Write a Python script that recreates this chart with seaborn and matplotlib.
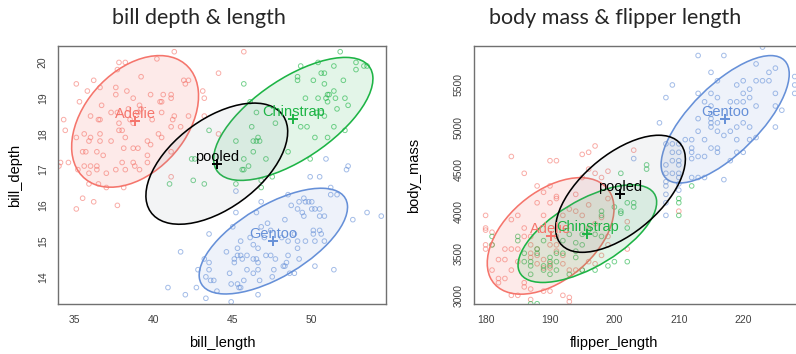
import numpy as np
import pandas as pd
import matplotlib
matplotlib.use("Agg")
import matplotlib.pyplot as plt
import seaborn as sns
from matplotlib.patches import Ellipse
from matplotlib.colors import to_rgba

# ---------------------------------------------------------------- data
species = ["Adelie", "Chinstrap", "Gentoo"]
palette = {"Adelie": "#F5756C", "Chinstrap": "#1DB445", "Gentoo": "#6690D8"}
fill_alpha = {"Adelie": 0.15, "Chinstrap": 0.12, "Gentoo": 0.11}
group_n = [146, 68, 119]

# group summaries (means, standard deviations, correlations)
bill_length_mean = [38.82, 48.83, 47.57]
bill_depth_mean = [18.35, 18.42, 15.00]
bill_length_sd = [2.66, 3.34, 3.11]
bill_depth_sd = [1.22, 1.14, 0.98]
bill_r = [0.386, 0.654, 0.643]

flipper_mean = [190.1, 195.8, 217.2]
mass_mean = [3706, 3733, 5092]
flipper_sd = [6.52, 7.13, 6.59]
mass_sd = [458.6, 384.3, 501.5]
flipper_mass_r = [0.468, 0.642, 0.711]

# observations: bill_length / bill_depth
adelie_bill_length = [41.3, 37.8, 38.2, 40.2, 37.7, 39.2, 35.1, 36.2, 41.9, 42.2, 42.0, 35.8, 36.6,
                      37.6, 38.3, 43.1, 39.8, 40.6, 41.1, 37.6, 35.3, 36.7, 38.7, 40.5, 41.1, 40.4,
                      43.2, 39.1, 39.2, 38.4, 34.3, 36.0, 36.6, 37.3, 37.7, 40.5, 41.3, 42.2, 34.4,
                      39.0, 36.5, 37.8, 38.0, 38.5, 38.7, 39.9, 41.2, 41.7, 43.2, 35.1, 36.0, 36.6,
                      35.6, 35.9, 36.6, 37.3, 37.8, 38.2, 39.6, 39.8, 40.3, 40.5, 41.1, 35.7, 35.5,
                      36.4, 36.8, 38.1, 38.7, 39.0, 39.6, 34.1, 34.6, 35.6, 36.0, 36.4, 38.0, 38.7,
                      38.8, 39.6, 35.2, 35.9, 36.4, 37.0, 37.6, 38.2, 39.1, 41.1, 34.0, 35.9, 36.5,
                      37.0, 38.1, 35.5, 36.2, 35.1, 37.7, 44.1, 45.7, 44.1, 41.1]
adelie_bill_depth = [20.3, 20.0, 20.0, 20.1, 19.8, 19.6, 19.4, 19.5, 19.5, 19.5, 19.4, 19.2, 19.3,
                     19.3, 19.2, 19.2, 19.1, 19.1, 19.1, 19.1, 18.9, 18.8, 19.0, 18.9, 19.0, 18.9,
                     19.0, 18.8, 18.7, 18.7, 18.4, 18.5, 18.4, 18.6, 18.6, 18.6, 18.5, 18.5, 18.1,
                     18.6, 18.4, 18.3, 18.1, 18.4, 18.3, 18.4, 18.4, 18.2, 18.5, 17.9, 17.9, 18.0,
                     18.0, 17.8, 17.8, 17.8, 18.1, 17.9, 17.8, 17.7, 18.0, 17.9, 18.2, 17.5, 17.5,
                     17.5, 17.4, 17.6, 17.6, 17.6, 17.4, 17.2, 17.2, 17.1, 17.1, 17.1, 17.2, 17.2,
                     17.1, 17.2, 17.0, 16.9, 17.0, 16.9, 17.0, 17.0, 17.0, 17.5, 17.1, 16.6, 16.6,
                     16.5, 16.5, 16.2, 16.1, 15.9, 16.0, 19.7, 20.3, 18.0, 16.8]

chinstrap_bill_length = [51.8, 50.4, 49.3, 51.4, 52.8, 53.3, 52.8, 49.1, 49.1, 50.1, 50.6, 50.8,
                         50.8, 52.0, 45.7, 51.4, 51.1, 51.0, 52.1, 52.3, 49.6, 50.4, 50.9, 51.5,
                         51.0, 51.6, 50.3, 50.8, 50.6, 47.7, 46.2, 46.5, 46.1, 49.3, 49.7, 51.4,
                         52.1, 50.2, 51.0, 45.2, 46.3, 46.5, 46.6, 46.7, 46.3, 47.1, 48.5, 45.7,
                         46.0, 45.6, 45.7, 49.9, 47.5, 45.2, 46.8, 43.2, 42.5, 43.5, 42.6, 42.4,
                         41.0, 53.5, 46.8]
chinstrap_bill_depth = [20.3, 20.0, 19.9, 19.9, 20.0, 19.9, 19.8, 19.6, 19.5, 19.5, 19.7, 19.7,
                        19.4, 19.5, 19.4, 19.2, 19.1, 19.1, 19.0, 18.8, 19.0, 19.0, 19.0, 19.0,
                        18.9, 18.7, 18.6, 18.5, 18.6, 18.3, 18.2, 18.6, 18.9, 18.2, 18.2, 18.2,
                        18.1, 17.9, 17.9, 17.8, 17.8, 17.8, 17.9, 17.8, 17.5, 17.3, 17.5, 17.3,
                        17.1, 17.0, 17.0, 17.3, 16.8, 16.6, 16.7, 16.6, 16.7, 18.1, 17.3, 17.3,
                        16.6, 19.9, 16.5]

gentoo_bill_length = [49.9, 48.5, 49.5, 49.6, 49.8, 50.0, 51.2, 51.6, 51.2, 46.8, 45.2, 45.2, 46.5,
                      47.2, 48.3, 48.7, 49.2, 49.1, 49.4, 49.5, 50.0, 50.2, 50.5, 50.8, 50.5, 52.6,
                      53.5, 54.4, 45.0, 46.8, 47.4, 43.5, 46.1, 45.5, 46.3, 46.6, 45.3, 44.6, 47.0,
                      48.1, 48.5, 49.1, 49.6, 50.2, 50.8, 50.1, 50.1, 50.5, 50.6, 48.9, 49.1, 49.2,
                      41.7, 43.2, 43.5, 42.8, 43.5, 45.1, 45.3, 45.5, 45.6, 45.9, 46.3, 46.5, 46.6,
                      47.1, 47.4, 47.7, 48.5, 48.4, 48.3, 45.1, 45.9, 46.3, 46.6, 47.6, 48.2, 48.6,
                      48.9, 50.2, 51.4, 43.3, 43.6, 43.8, 44.9, 45.3, 45.4, 45.5, 45.7, 44.8, 46.7,
                      47.5, 40.9, 42.7, 42.0, 43.3, 44.0, 44.9, 46.6, 50.9, 52.3, 52.2, 50.5]
gentoo_bill_depth = [16.8, 16.3, 16.2, 16.1, 16.1, 16.1, 16.5, 16.3, 16.3, 16.1, 16.4, 15.8, 15.8,
                     15.5, 15.6, 16.0, 16.1, 15.9, 15.8, 15.7, 15.9, 15.9, 15.7, 15.7, 15.9, 15.6,
                     15.8, 15.7, 15.4, 15.4, 15.3, 15.2, 15.1, 15.0, 14.9, 14.8, 14.8, 14.7, 15.1,
                     15.1, 15.0, 15.0, 15.0, 15.0, 15.0, 15.3, 15.2, 15.3, 15.2, 15.2, 14.8, 14.5,
                     14.7, 14.5, 14.4, 14.2, 14.2, 14.5, 14.6, 14.6, 14.5, 14.6, 14.5, 14.5, 14.4,
                     14.6, 14.6, 14.5, 14.6, 14.4, 14.3, 14.4, 14.2, 14.1, 14.2, 14.2, 14.3, 14.1,
                     14.1, 14.3, 14.2, 14.0, 13.9, 13.9, 13.8, 13.8, 13.7, 13.7, 13.9, 14.1, 13.9,
                     14.0, 13.7, 13.7, 13.5, 13.4, 13.6, 13.3, 13.5, 17.3, 17.1, 17.0, 16.8]

# observations: flipper_length / body_mass
adelie_flipper = [180, 180, 180, 180, 181, 181, 182, 182, 183, 184, 185, 185, 184, 183, 184, 185,
                  188, 188, 189, 190, 191, 192, 193, 194, 194, 195, 196, 196, 197, 198, 199, 186,
                  186, 187, 187, 187, 187, 188, 188, 188, 189, 189, 190, 190, 190, 191, 191, 191,
                  192, 192, 193, 194, 195, 196, 197, 198, 199, 199, 184, 185, 192, 193, 190, 189,
                  187, 186, 184, 186, 190, 191, 195, 196, 197, 197, 198, 199, 196, 195, 203, 210,
                  202, 202, 181, 182, 183, 186, 187, 193, 190, 180, 189, 191]
adelie_mass = [3950, 3800, 3600, 3550, 3750, 3600, 3200, 3150, 3550, 3550, 3550, 3400, 3300, 3200,
               3900, 3950, 4300, 4100, 3950, 4100, 4175, 3950, 4025, 4200, 4000, 3950, 4075, 3800,
               3850, 3925, 4150, 3800, 3700, 3700, 3600, 3500, 3450, 3550, 3475, 3375, 3425, 3325,
               3375, 3325, 3600, 3700, 3600, 3525, 3475, 3375, 3300, 3300, 3300, 3400, 3375, 3475,
               3600, 3700, 3000, 3000, 3000, 2975, 3050, 3050, 3075, 3100, 4650, 4450, 4600, 4600,
               4675, 4700, 4775, 4450, 4400, 4475, 4500, 4400, 4725, 4000, 3550, 3875, 3300, 3425,
               3425, 3150, 2950, 2925, 4300, 3775, 4225, 4150]

chinstrap_flipper = [181, 181, 185, 185, 186, 186, 187, 187, 187, 187, 188, 188, 188, 189, 189,
                     189, 190, 190, 190, 190, 191, 191, 191, 192, 192, 193, 193, 194, 194, 194,
                     195, 195, 195, 196, 197, 197, 198, 198, 199, 200, 200, 201, 201, 202, 202,
                     203, 203, 205, 205, 210, 210, 210, 212, 201, 198, 202]
chinstrap_mass = [3700, 3600, 3700, 3650, 3500, 3400, 3400, 3350, 3250, 2900, 2900, 3550, 3500,
                  3650, 3350, 3300, 3450, 3400, 3350, 3250, 3400, 3300, 3500, 3500, 3650, 3250,
                  3725, 3625, 3525, 3450, 3600, 3725, 3300, 3775, 3725, 3300, 3700, 3950, 3350,
                  4050, 3400, 4450, 3975, 4100, 3800, 4100, 4050, 4550, 4500, 4150, 4100, 3950,
                  4300, 4000, 4000, 3400]

gentoo_flipper = [213, 217, 223, 225, 224, 222, 215, 216, 209, 208, 213, 215, 219, 220, 222, 223,
                  224, 221, 220, 225, 226, 225, 225, 222, 221, 220, 219, 218, 216, 214, 215, 215,
                  215, 215, 215, 216, 216, 217, 218, 219, 220, 221, 219, 222, 220, 219, 218, 217,
                  215, 216, 216, 214, 213, 213, 213, 214, 212, 212, 212, 211, 212, 214, 213, 210,
                  209, 208, 210, 209, 210, 209, 210, 208, 210, 209, 208, 210, 208, 207, 203, 208,
                  208, 210, 208, 208, 210, 212, 228, 228, 228, 221]
gentoo_mass = [5850, 5850, 5950, 5700, 5650, 5750, 5650, 5550, 5500, 5350, 5400, 5400, 5500, 5550,
               5550, 5550, 5550, 5450, 5400, 5400, 5200, 5250, 5000, 5250, 5350, 5300, 5300, 5300,
               5350, 5300, 5250, 5150, 5100, 5050, 5000, 5050, 4950, 4900, 4950, 5000, 5050, 5000,
               4850, 4875, 4700, 4700, 4600, 4375, 4750, 4750, 4700, 4650, 4650, 4950, 5100, 4850,
               4850, 4750, 4700, 4850, 4400, 4400, 4400, 4800, 4800, 4800, 4700, 4700, 4600, 4600,
               4550, 4550, 4450, 4450, 4450, 4400, 4350, 5050, 4625, 4300, 4200, 4250, 4100, 3950,
               4325, 4625, 5600, 5500, 5400, 4850]

bills = pd.DataFrame({
    "species": ["Adelie"] * len(adelie_bill_length) + ["Chinstrap"] * len(chinstrap_bill_length)
               + ["Gentoo"] * len(gentoo_bill_length),
    "bill_length": adelie_bill_length + chinstrap_bill_length + gentoo_bill_length,
    "bill_depth": adelie_bill_depth + chinstrap_bill_depth + gentoo_bill_depth,
})
bodies = pd.DataFrame({
    "species": ["Adelie"] * len(adelie_flipper) + ["Chinstrap"] * len(chinstrap_flipper)
               + ["Gentoo"] * len(gentoo_flipper),
    "flipper_length": adelie_flipper + chinstrap_flipper + gentoo_flipper,
    "body_mass": adelie_mass + chinstrap_mass + gentoo_mass,
})

# 68% data ellipse radius for 2 dimensions
RADIUS = np.sqrt(-2 * np.log(1 - 0.68))


def covariance(sdx, sdy, r):
    c = r * sdx * sdy
    return np.array([[sdx ** 2, c], [c, sdy ** 2]])


def add_ellipse(ax, center, cov, edge, face, alpha):
    vals, vecs = np.linalg.eigh(cov)
    order = vals.argsort()[::-1]
    vals, vecs = vals[order], vecs[:, order]
    angle = np.degrees(np.arctan2(vecs[1, 0], vecs[0, 0]))
    w, h = 2 * RADIUS * np.sqrt(vals)
    ax.add_patch(Ellipse(center, w, h, angle=angle, facecolor=to_rgba(face, alpha),
                         edgecolor=edge, lw=1.15, zorder=3))


def label_center(ax, x, y, text, color):
    ax.plot([x], [y], marker="+", ms=7, mew=1.4, color=color, zorder=5)
    ax.annotate(text, (x, y), xytext=(0, 5), textcoords="offset points", ha="center",
                va="center", color=color, fontsize=10.5, family="Liberation Sans", zorder=6)


def draw_panel(ax, df, xcol, ycol, mx, my, sx, sy, rr):
    for sp in species:
        sub = df[df["species"] == sp]
        sns.scatterplot(data=sub, x=xcol, y=ycol, ax=ax, color=palette[sp], marker="o", s=11,
                        facecolor="none", edgecolor=palette[sp], linewidth=0.7, alpha=0.6,
                        zorder=2, legend=False)
    covs = [covariance(sx[i], sy[i], rr[i]) for i in range(3)]
    n = np.array(group_n)
    pooled_cov = sum((n[i] - 1) * covs[i] for i in range(3)) / (n.sum() - 3)
    grand = (np.dot(n, mx) / n.sum(), np.dot(n, my) / n.sum())
    for i, sp in enumerate(species):
        add_ellipse(ax, (mx[i], my[i]), covs[i], palette[sp], palette[sp], fill_alpha[sp])
    add_ellipse(ax, grand, pooled_cov, "black", "#8A94A6", 0.10)
    for i, sp in enumerate(species):
        label_center(ax, mx[i], my[i], sp, palette[sp])
    label_center(ax, grand[0], grand[1], "pooled", "black")


def style_axes(ax, xlabel, ylabel):
    for s in ax.spines.values():
        s.set_color("#707070")
        s.set_linewidth(1.0)
    ax.tick_params(length=3.6, width=0.8, color="#707070", labelsize=7.5, labelcolor="#404040",
                   pad=4)
    ax.tick_params(axis="y", labelrotation=90)
    for t in ax.get_yticklabels():
        t.set_va("center")
    ax.set_xlabel(xlabel, fontsize=10.5, family="Liberation Sans", color="black")
    ax.set_ylabel(ylabel, fontsize=10.5, family="Liberation Sans", color="black")


sns.set_style("white")
plt.rcParams["font.family"] = ["Liberation Sans", "DejaVu Sans"]

W, H = 796, 354
fig = plt.figure(figsize=(W / 100, H / 100), dpi=100)

ax1 = fig.add_axes([58.3 / W, 50 / H, 327.4 / W, 258 / H])
draw_panel(ax1, bills, "bill_length", "bill_depth", bill_length_mean, bill_depth_mean,
           bill_length_sd, bill_depth_sd, bill_r)
ax1.set_xlim(33.96, 54.68)
ax1.set_ylim(13.24, 20.46)
ax1.set_xticks([35, 40, 45, 50])
ax1.set_yticks([14, 15, 16, 17, 18, 19, 20])
style_axes(ax1, "bill_length", "bill_depth")
ax1.xaxis.set_label_coords(0.5, -0.125)
ax1.yaxis.set_label_coords(-0.11, 0.5)

x2lim = (178.2, 231.5)
ax2 = fig.add_axes([474 / W, 50 / H, (x2lim[1] - x2lim[0]) * 6.44 / W, 258 / H])
draw_panel(ax2, bodies, "flipper_length", "body_mass", flipper_mean, mass_mean,
           flipper_sd, mass_sd, flipper_mass_r)
ax2.set_xlim(*x2lim)
ax2.set_ylim(2897, 5963)
ax2.set_xticks([180, 190, 200, 210, 220])
ax2.set_yticks([3000, 3500, 4000, 4500, 5000, 5500])
style_axes(ax2, "flipper_length", "body_mass")
ax2.xaxis.set_label_coords((614 - 474) / ((x2lim[1] - x2lim[0]) * 6.44), -0.125)
ax2.yaxis.set_label_coords(-0.155, 0.5)

fig.text(198.5 / W, 1 - 18 / H, "bill depth & length", ha="center", va="center",
         fontsize=15.5, family="Lato", color="#262626")
fig.text(615 / W, 1 - 18 / H, "body mass & flipper length", ha="center", va="center",
         fontsize=15.5, family="Lato", color="#262626")

fig.savefig("out.png", dpi=100)
